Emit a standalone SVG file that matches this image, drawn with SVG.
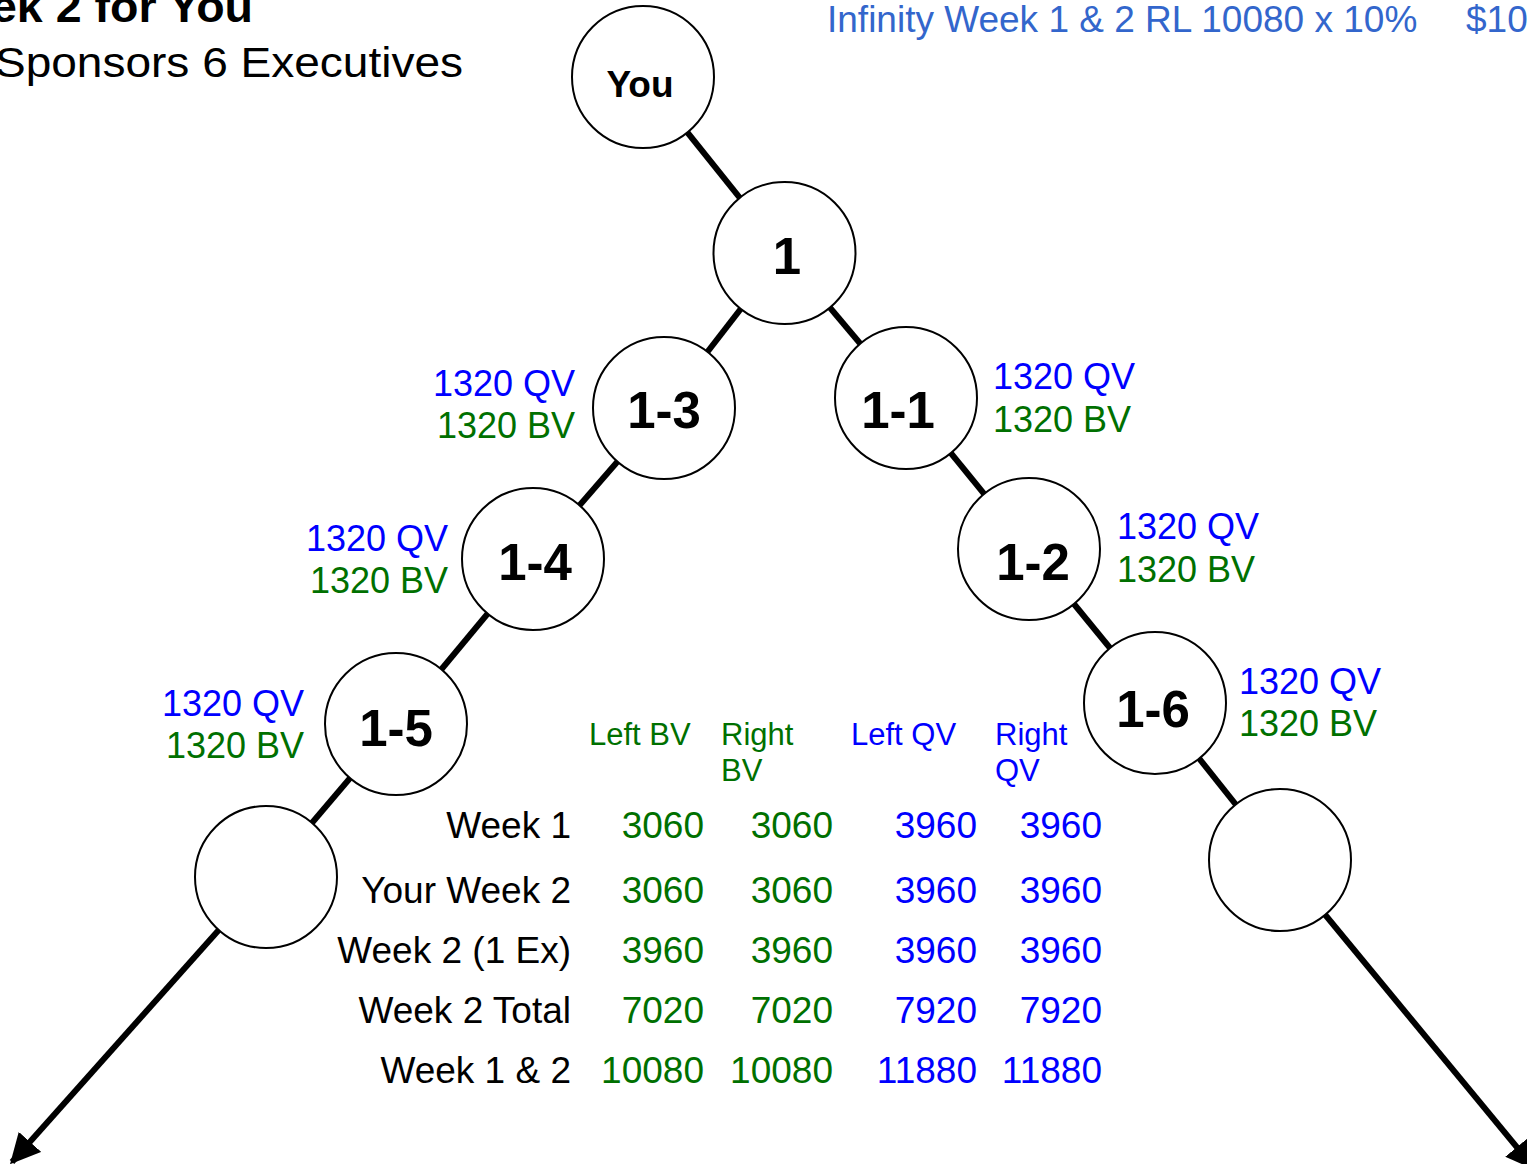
<svg xmlns="http://www.w3.org/2000/svg" width="1527" height="1164" viewBox="0 0 1527 1164">
<defs>
<marker id="arr" viewBox="0 0 10 10" refX="9" refY="5" markerWidth="5" markerHeight="5" orient="auto" markerUnits="strokeWidth">
<path d="M0,0 L10,5 L0,10 z" fill="#000"/>
</marker>
<style>
text{font-family:"Liberation Sans",Arial,sans-serif}
.node circle{fill:#fff;stroke:#000;stroke-width:2}
.nl{font-weight:bold;font-size:51px;text-anchor:middle}
.edge{stroke:#000;stroke-width:6;fill:none}
.qv{fill:#0000ff;font-size:36px}
.bv{fill:#007000;font-size:36px}
.r{text-anchor:end}
.th{font-size:31px}
.td{font-size:37px;text-anchor:end}
</style>
</defs>
<rect width="1527" height="1164" fill="#fff"/>
<text x="253" y="22" font-size="45" font-weight="bold" text-anchor="end" textLength="262" lengthAdjust="spacingAndGlyphs">ek 2 for You</text>
<text x="463" y="77" font-size="42" text-anchor="end" textLength="468" lengthAdjust="spacingAndGlyphs">Sponsors 6 Executives</text>
<text x="827" y="32" font-size="37" fill="#3366cc">Infinity Week 1 &amp; 2 RL 10080 x 10%</text>
<text x="1466" y="32" font-size="37" fill="#3366cc">$10</text>
<g id="connectors">
<line class="edge" x1="643" y1="77" x2="784" y2="253"/>
<line class="edge" x1="784" y1="253" x2="664" y2="408"/>
<line class="edge" x1="664" y1="408" x2="533" y2="559"/>
<line class="edge" x1="533" y1="559" x2="396" y2="724"/>
<line class="edge" x1="396" y1="724" x2="266" y2="877"/>
<line class="edge" x1="266" y1="877" x2="12" y2="1162" marker-end="url(#arr)"/>
<line class="edge" x1="784" y1="253" x2="906" y2="398"/>
<line class="edge" x1="906" y1="398" x2="1029" y2="549"/>
<line class="edge" x1="1029" y1="549" x2="1155" y2="703"/>
<line class="edge" x1="1155" y1="703" x2="1280" y2="860"/>
<line class="edge" x1="1280" y1="860" x2="1534" y2="1168" marker-end="url(#arr)"/>
</g>
<g id="node-you" class="node"><circle cx="643" cy="77" r="71"/><text x="640" y="97" font-size="37" font-weight="bold" text-anchor="middle">You</text></g>
<g id="node-1" class="node"><circle cx="784.5" cy="253" r="71"/><text class="nl" x="787" y="274">1</text></g>
<g id="node-1-3" class="node"><circle cx="664" cy="408" r="71"/><text class="nl" x="664" y="428">1-3</text>
<text class="qv r" x="575" y="396">1320 QV</text><text class="bv r" x="575" y="438">1320 BV</text></g>
<g id="node-1-1" class="node"><circle cx="906" cy="398" r="71"/><text class="nl" x="898" y="428">1-1</text>
<text class="qv" x="993" y="389">1320 QV</text><text class="bv" x="993" y="432">1320 BV</text></g>
<g id="node-1-4" class="node"><circle cx="533" cy="559" r="71"/><text class="nl" x="535" y="580">1-4</text>
<text class="qv r" x="448" y="551">1320 QV</text><text class="bv r" x="448" y="593">1320 BV</text></g>
<g id="node-1-2" class="node"><circle cx="1029" cy="549" r="71"/><text class="nl" x="1033" y="580">1-2</text>
<text class="qv" x="1117" y="539">1320 QV</text><text class="bv" x="1117" y="582">1320 BV</text></g>
<g id="node-1-5" class="node"><circle cx="396" cy="724" r="71"/><text class="nl" x="396" y="746">1-5</text>
<text class="qv r" x="304" y="716">1320 QV</text><text class="bv r" x="304" y="758">1320 BV</text></g>
<g id="node-1-6" class="node"><circle cx="1155" cy="703" r="71"/><text class="nl" x="1153" y="727">1-6</text>
<text class="qv" x="1239" y="694">1320 QV</text><text class="bv" x="1239" y="736">1320 BV</text></g>
<g id="node-left" class="node"><circle cx="266" cy="877" r="71"/></g>
<g id="node-right" class="node"><circle cx="1280" cy="860" r="71"/></g>
<g id="table">
<text class="th" x="589" y="745" fill="#007000">Left BV</text>
<text class="th" x="721" y="745" fill="#007000">Right</text>
<text class="th" x="721" y="781" fill="#007000">BV</text>
<text class="th" x="851" y="745" fill="#0000ff">Left QV</text>
<text class="th" x="995" y="745" fill="#0000ff">Right</text>
<text class="th" x="995" y="781" fill="#0000ff">QV</text>
<g class="td">
<text x="571" y="838">Week 1</text>
<text x="571" y="903">Your Week 2</text>
<text x="571" y="963">Week 2 (1 Ex)</text>
<text x="571" y="1023">Week 2 Total</text>
<text x="571" y="1083">Week 1 &amp; 2</text>
</g>
<g class="td" fill="#007000">
<text x="704" y="838">3060</text><text x="833" y="838">3060</text>
<text x="704" y="903">3060</text><text x="833" y="903">3060</text>
<text x="704" y="963">3960</text><text x="833" y="963">3960</text>
<text x="704" y="1023">7020</text><text x="833" y="1023">7020</text>
<text x="704" y="1083">10080</text><text x="833" y="1083">10080</text>
</g>
<g class="td" fill="#0000ff">
<text x="977" y="838">3960</text><text x="1102" y="838">3960</text>
<text x="977" y="903">3960</text><text x="1102" y="903">3960</text>
<text x="977" y="963">3960</text><text x="1102" y="963">3960</text>
<text x="977" y="1023">7920</text><text x="1102" y="1023">7920</text>
<text x="977" y="1083">11880</text><text x="1102" y="1083">11880</text>
</g>
</g>
</svg>
